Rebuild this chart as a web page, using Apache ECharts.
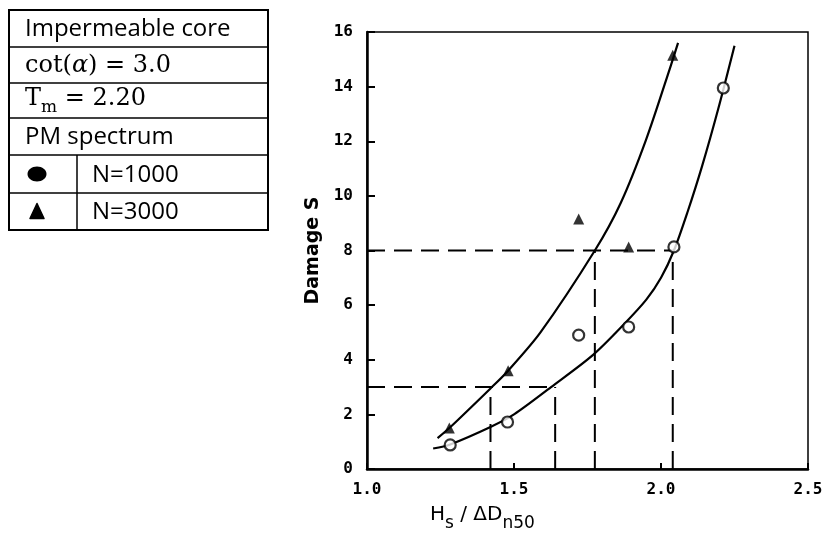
<!DOCTYPE html>
<html>
<head>
<meta charset="utf-8">
<script src="https://cdn.jsdelivr.net/npm/echarts@6/dist/echarts.min.js"></script>
<style>html,body{margin:0;padding:0;background:#fff;}#c{width:826px;height:537px;}</style>
</head>
<body>
<div id="c"></div>
<script>
// ---- data ----
var xTicks = [1.0, 1.5, 2.0, 2.5];
var yTicks = [0, 2, 4, 6, 8, 10, 12, 14, 16];
var n1000X = [1.283, 1.478, 1.72, 1.89, 2.044, 2.212];
var n1000S = [0.88, 1.72, 4.9, 5.2, 8.13, 13.95];
var n3000X = [1.28, 1.48, 1.72, 1.89, 2.04];
var n3000S = [1.5, 3.6, 9.15, 8.13, 15.15];
var fit1000X = [1.225, 1.283, 1.42, 1.5, 1.626, 1.768, 1.874, 1.95, 2.0, 2.044, 2.09, 2.14, 2.195, 2.25];
var fit1000S = [0.75, 0.9, 1.54, 2.0, 3.0, 4.17, 5.3, 6.2, 7.0, 8.0, 9.4, 11.1, 13.2, 15.5];
var fit3000X = [1.24, 1.28, 1.42, 1.48, 1.59, 1.775, 1.863, 1.949, 2.034, 2.058];
var fit3000S = [1.13, 1.5, 2.95, 3.6, 5.0, 8.0, 9.74, 12.05, 14.79, 15.6];
var guideS = [3, 8];
var guideEndX = [1.64, 2.04];
var guideVX = [1.42, 1.64, 1.775, 2.04];
var guideVS = [3, 3, 8, 8];
var tableRows = ['Impermeable core', 'cot(α) = 3.0', 'T_m = 2.20', 'PM spectrum', 'N=1000', 'N=3000'];

function pairs(xs, ys) { return xs.map(function (x, i) { return [x, ys[i]]; }); }

var dashStyle = { color: '#000', width: 2, type: [18, 9] };
var series = [];
series.push({ type: 'line', data: pairs(fit1000X, fit1000S), smooth: 0.3, showSymbol: false, symbol: 'none',
  lineStyle: { color: '#000', width: 2.2 }, z: 3 });
series.push({ type: 'line', data: pairs(fit3000X, fit3000S), smooth: 0.3, showSymbol: false, symbol: 'none',
  lineStyle: { color: '#000', width: 2.2 }, z: 3 });
guideS.forEach(function (s, i) {
  series.push({ type: 'line', data: [[xTicks[0], s], [guideEndX[i], s]], symbol: 'none', lineStyle: dashStyle, z: 2 });
});
guideVX.forEach(function (x, i) {
  series.push({ type: 'line', data: [[x, 0], [x, guideVS[i]]], symbol: 'none', lineStyle: dashStyle, z: 2 });
});
series.push({ type: 'scatter', data: pairs(n1000X, n1000S), symbol: 'circle', symbolSize: 11,
  itemStyle: { color: '#fff', borderColor: '#000', borderWidth: 2.2 }, z: 5 });
series.push({ type: 'scatter', data: pairs(n3000X, n3000S), symbol: 'triangle', symbolSize: 11,
  itemStyle: { color: '#000' }, z: 5 });

// ---- table (legend box) ----
var tblX = 9, tblW = 259, rowTops = [10, 47, 83, 118, 155, 193, 230], divX = 77;
var g = [];
g.push({ type: 'rect', shape: { x: tblX, y: rowTops[0], width: tblW, height: rowTops[6] - rowTops[0] },
  style: { fill: 'none', stroke: '#000', lineWidth: 2 } });
for (var r = 1; r < 6; r++) {
  g.push({ type: 'line', shape: { x1: tblX, y1: rowTops[r], x2: tblX + tblW, y2: rowTops[r] },
    style: { stroke: '#000', lineWidth: 1.5 } });
}
g.push({ type: 'line', shape: { x1: divX, y1: rowTops[4], x2: divX, y2: rowTops[6] }, style: { stroke: '#000', lineWidth: 1.5 } });
function mid(r) { return (rowTops[r] + rowTops[r + 1]) / 2 + 1; }
var sansFont = '"Open Sans", "Liberation Sans", sans-serif';
var serifFont = '"DejaVu Serif", "Liberation Serif", serif';
g.push({ type: 'text', x: 25, y: mid(0), style: { text: tableRows[0], font: '24px ' + sansFont, fill: '#000', textVerticalAlign: 'middle' } });
g.push({ type: 'text', x: 25, y: mid(1), style: {
  text: '{a|cot(}{i|α}{a|) = 3.0}', textVerticalAlign: 'middle',
  rich: { a: { fontFamily: serifFont, fontSize: 24, fill: '#000' }, i: { fontFamily: serifFont, fontStyle: 'italic', fontSize: 24, fill: '#000' } } } });
g.push({ type: 'text', x: 25, y: mid(2), style: {
  text: '{a|T}{s|m}{a| = 2.20}', textVerticalAlign: 'middle',
  rich: { a: { fontFamily: serifFont, fontSize: 24, fill: '#000', verticalAlign: 'top' },
          s: { fontFamily: serifFont, fontSize: 17, fill: '#000', padding: [12, 0, 0, 0] } } } });
g.push({ type: 'text', x: 25, y: mid(3), style: { text: tableRows[3], font: '24px ' + sansFont, fill: '#000', textVerticalAlign: 'middle' } });
g.push({ type: 'text', x: 92, y: mid(4), style: { text: tableRows[4], font: '24px ' + sansFont, fill: '#000', textVerticalAlign: 'middle' } });
g.push({ type: 'text', x: 92, y: mid(5), style: { text: tableRows[5], font: '24px ' + sansFont, fill: '#000', textVerticalAlign: 'middle' } });
g.push({ type: 'ellipse', shape: { cx: 37, cy: mid(4) - 1, rx: 9.5, ry: 7.5 }, style: { fill: '#000' } });
g.push({ type: 'polygon', shape: { points: [[37, mid(5) - 9], [44, mid(5) + 6], [30, mid(5) + 6]] }, style: { fill: '#000', stroke: '#000', lineWidth: 1.5, lineJoin: 'round' } });

// x axis name
g.push({ type: 'text', x: 430, y: 505, style: {
  text: '{a|H}{s|s}{a| / ΔD}{s|n50}',
  rich: { a: { fontFamily: '"DejaVu Sans", sans-serif', fontSize: 20, fill: '#000', verticalAlign: 'top' },
          s: { fontFamily: '"DejaVu Sans", sans-serif', fontSize: 17, fill: '#000', padding: [10, 0, 0, 0] } } } });

var tickFont = { color: '#000', fontFamily: '"DejaVu Sans Mono", monospace', fontWeight: 'bold', fontSize: 16 };

var chart = echarts.init(document.getElementById('c'), null, { renderer: 'canvas' });
chart.setOption({
  animation: false,
  backgroundColor: '#fff',
  grid: { left: 367, top: 32, right: 18, bottom: 68, show: true, borderColor: '#000', borderWidth: 1.5 },
  xAxis: {
    type: 'value', min: xTicks[0], max: xTicks[xTicks.length - 1], interval: 0.5,
    axisLine: { lineStyle: { color: '#000', width: 2.5 } },
    axisTick: { inside: true, length: 6, lineStyle: { color: '#000', width: 2 } },
    axisLabel: Object.assign({ margin: 13, formatter: function (v) { return v.toFixed(1); } }, tickFont),
    splitLine: { show: false }
  },
  yAxis: {
    type: 'value', min: yTicks[0], max: yTicks[yTicks.length - 1], interval: 2,
    name: 'Damage S', nameLocation: 'middle', nameGap: 40, nameRotate: 90,
    nameTextStyle: { color: '#000', fontFamily: '"DejaVu Sans", sans-serif', fontWeight: 'bold', fontSize: 19 },
    axisLine: { lineStyle: { color: '#000', width: 2.5 } },
    axisTick: { inside: true, length: 8, lineStyle: { color: '#000', width: 2 } },
    axisLabel: Object.assign({ margin: 14 }, tickFont),
    splitLine: { show: false }
  },
  graphic: g,
  series: series
});
</script>
</body>
</html>
